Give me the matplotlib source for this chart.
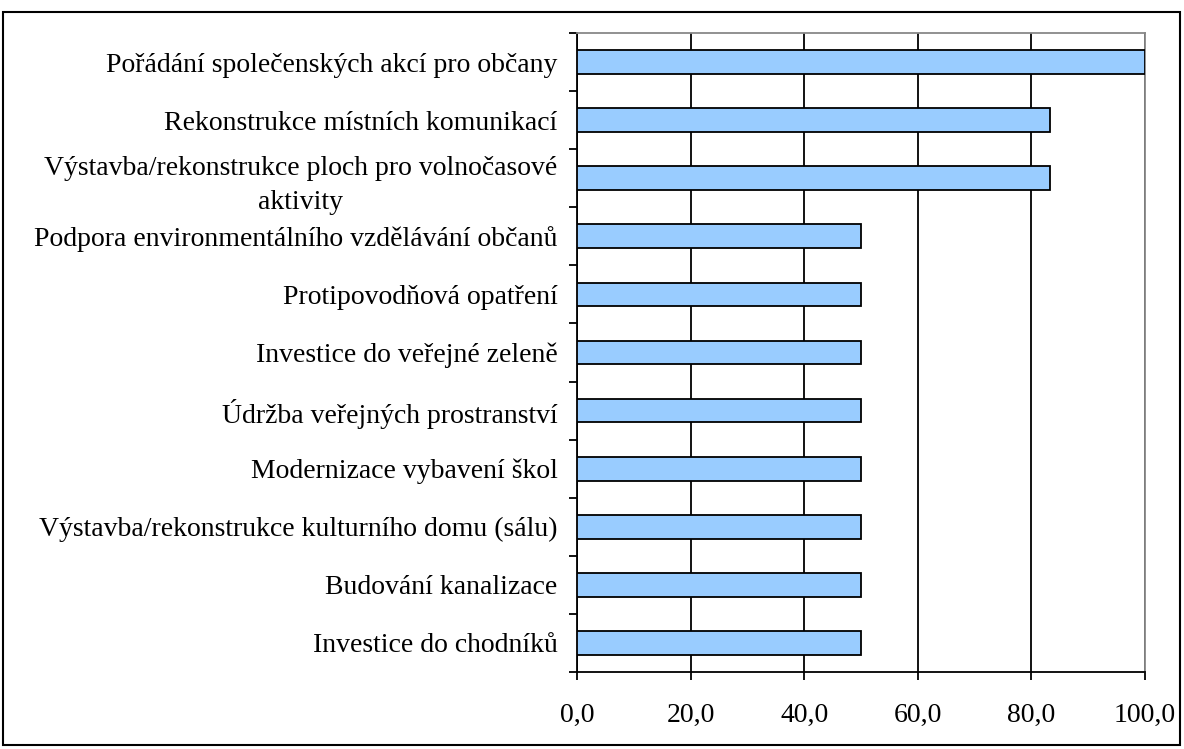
import numpy as np
import matplotlib.pyplot as plt
from matplotlib.patches import Rectangle

categories = [
    'Pořádání společenských akcí pro občany',
    'Rekonstrukce místních komunikací',
    'Výstavba/rekonstrukce ploch pro volnočasové\naktivity',
    'Podpora environmentálního vzdělávání občanů',
    'Protipovodňová opatření',
    'Investice do veřejné zeleně',
    'Údržba veřejných prostranství',
    'Modernizace vybavení škol',
    'Výstavba/rekonstrukce kulturního domu (sálu)',
    'Budování kanalizace',
    'Investice do chodníků',
]
values = [100.0, 83.3, 83.3, 50.0, 50.0, 50.0, 50.0, 50.0, 50.0, 50.0, 50.0]
xticks = [0, 20, 40, 60, 80, 100]

plt.rcParams['font.family'] = ['Liberation Serif', 'DejaVu Serif']

fig = plt.figure(figsize=(11.84, 7.49), dpi=100)
ax = fig.add_axes([577 / 1184, 1 - 672 / 749, (1145 - 577) / 1184, (672 - 33) / 749])

n = len(categories)
y = np.arange(n)
ax.barh(y, values, height=0.41, color='#99CCFF', edgecolor='black', linewidth=1.3, zorder=3)

ax.set_xlim(0, 100)
ax.set_ylim(n - 0.5, -0.5)
ax.set_xticks(xticks)
ax.set_xticklabels([f'{v:.1f}'.replace('.', ',') for v in xticks], fontsize=20)
ax.tick_params(axis='x', direction='out', length=6, width=1.3, pad=16)
ax.xaxis.grid(True, color='black', linewidth=1.3, zorder=0)

# category ticks sit between bars, labels on minor positions
ax.set_yticks(np.arange(n + 1) - 0.5)
ax.set_yticklabels([])
ax.tick_params(axis='y', which='major', direction='out', length=6, width=1.3)
ax.set_yticks(y, minor=True)
ax.set_yticklabels(categories, minor=True, fontsize=20, multialignment='center',
                   linespacing=1.45)
ax.tick_params(axis='y', which='minor', length=0, pad=14)

for s in ['left', 'bottom']:
    ax.spines[s].set_linewidth(1.3)
for s in ['top', 'right']:
    ax.spines[s].set_color('#888888')
    ax.spines[s].set_linewidth(1.3)

fig.patches.append(Rectangle((3 / 1184, 4 / 749), 1177 / 1184, 733 / 749,
                             transform=fig.transFigure, fill=False,
                             edgecolor='black', linewidth=1.5))

fig.savefig('out.png', dpi=100)
